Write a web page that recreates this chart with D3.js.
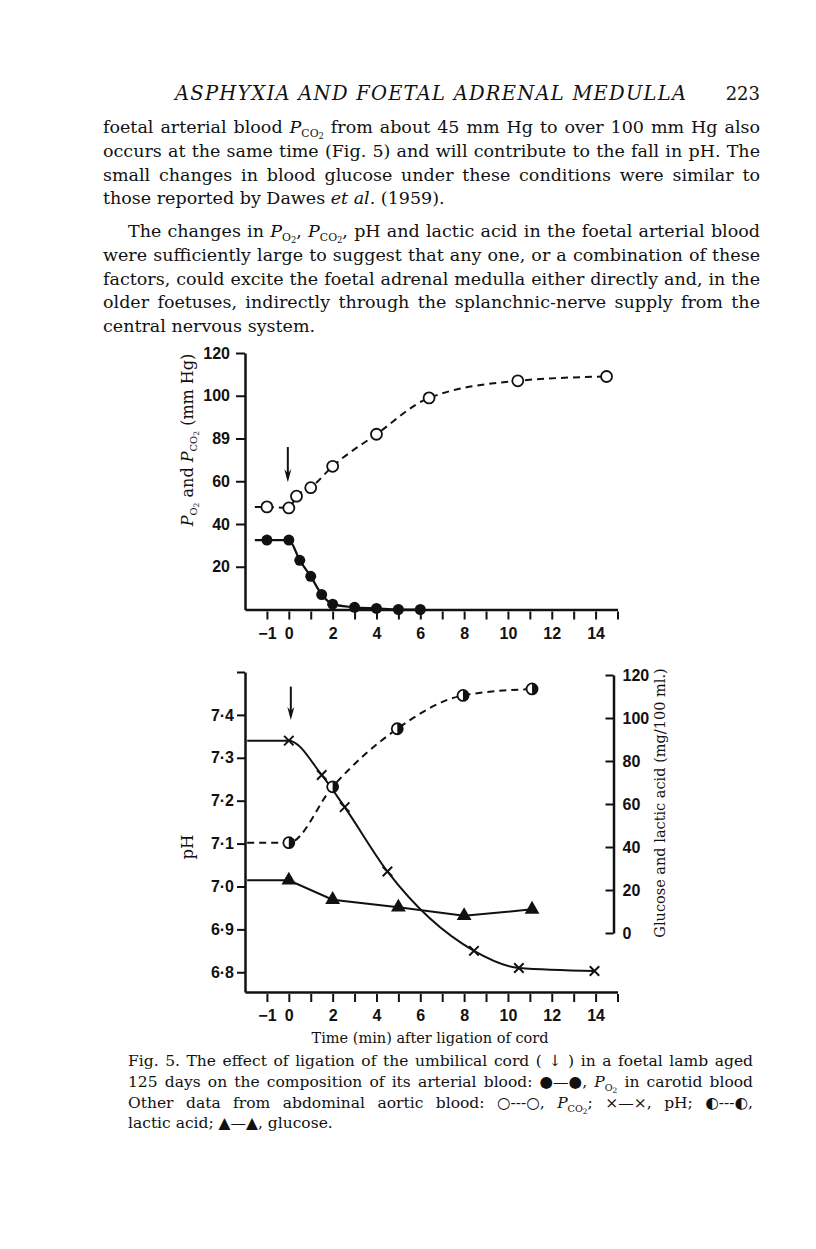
<!DOCTYPE html>
<html>
<head>
<meta charset="utf-8">
<script src="https://cdn.jsdelivr.net/npm/d3@7"></script>
<style>
body { margin: 0; background: #fff; }
.tick text { font-family: "Liberation Sans", Arial, sans-serif; font-weight: bold; font-size: 16px; fill: #111; }
</style>
</head>
<body>
<svg id="page"></svg>
<script>
// ---- data ----
var timeTicks = d3.range(-1, 16);
var timeTickLabels = ["−1", "0", "", "2", "", "4", "", "6", "", "8", "", "10", "", "12", "", "14", ""];

// upper panel: gas tensions (mm Hg)
var gasTicks = [20, 40, 60, 80, 100, 120];
var gasTickLabels = ["20", "40", "60", "89", "100", "120"];
var pco2Time = [-1, 0, 0.35, 1, 2, 4, 6.4, 10.45, 14.5];
var pco2 = [48, 47.5, 53, 57, 67, 82, 99, 107, 109];
var po2Time = [-1, 0, 0.5, 1, 1.5, 2, 3, 4, 5, 6];
var po2 = [32.5, 32.5, 23, 15.5, 7, 2.5, 1, 0.5, 0, 0];

// lower panel: pH (left) and glucose / lactic acid mg/100 ml (right)
var phTicks = [6.8, 6.9, 7.0, 7.1, 7.2, 7.3, 7.4, 7.5];
var phTickLabels = ["6·8", "6·9", "7·0", "7·1", "7·2", "7·3", "7·4", ""];
var chemTicks = [0, 20, 40, 60, 80, 100, 120];
var chemTickLabels = ["0", "20", "40", "60", "80", "100", "120"];
var phTime = [0, 1.5, 2.55, 4.5, 8.45, 10.5, 13.95];
var ph = [7.34, 7.26, 7.185, 7.035, 6.85, 6.81, 6.803];
var lacticTime = [0, 2, 4.95, 7.95, 11.1];
var lactic = [42, 68, 95, 110.5, 113.5];
var glucoseTime = [0, 2, 5, 8, 11.1];
var glucose = [24.5, 15.5, 12, 8, 11];

// where the control traces begin (min) and the ligation arrow
var upperLead = -1.55, lowerLead = -1.9;
var ligationTime = 0;

var W = 816, H = 1249;
var serif = '"DejaVu Serif", "Liberation Serif", serif';
var ink = "#111";

var svg = d3.select("#page").attr("width", W).attr("height", H);
svg.append("rect").attr("width", W).attr("height", H).attr("fill", "#fff");

//Text with italics and subscripts; parts = [[string, kind]]
function rich(x, y, parts, o) {
  var t = svg.append("text").attr("x", x).attr("y", y)
    .style("font-family", serif).style("font-size", o.size + "px")
    .style("white-space", "pre").attr("fill", ink);
  if (o.rotate) t.attr("transform", "rotate(-90," + x + "," + y + ")");
  if (o.anchor) t.attr("text-anchor", o.anchor);
  var off = 0;
  parts.forEach(function(p) {
    var k = p[1] || "";
    var target = k === "s" ? o.size * 0.24 : k === "ss" ? o.size * 0.36 : 0;
    var ts = t.append("tspan").text(p[0]).attr("dy", target - off);
    off = target;
    if (k === "i") ts.style("font-style", "italic");
    if (k === "s") ts.style("font-size", (o.size * 0.62) + "px");
    if (k === "ss") ts.style("font-size", (o.size * 0.48) + "px");
  });
  if (o.width) {
    var len = t.node().getComputedTextLength();
    var spaces = parts.map(function(p) { return p[0]; }).join("").split(" ").length - 1;
    if (spaces) t.style("word-spacing", ((o.width - len) / spaces) + "px");
  }
  return t;
}

// ---- running head and body text ----
svg.append("text").attr("x", 175).attr("y", 100)
  .attr("textLength", 511).attr("lengthAdjust", "spacing")
  .style("font-family", serif).style("font-style", "italic").style("font-size", "19.5px")
  .attr("fill", ink).text("ASPHYXIA AND FOETAL ADRENAL MEDULLA");
svg.append("text").attr("x", 760).attr("y", 100).attr("text-anchor", "end")
  .style("font-family", serif).style("font-size", "18px").attr("fill", ink).text("223");

var bodyLines = [
  [[["foetal arterial blood "], ["P", "i"], ["CO", "s"], ["2", "ss"], [" from about 45 mm Hg to over 100 mm Hg also"]], 103, 133, 657],
  [[["occurs at the same time (Fig. 5) and will contribute to the fall in pH. The"]], 103, 157, 657],
  [[["small changes in blood glucose under these conditions were similar to"]], 103, 181, 657],
  [[["those reported by Dawes "], ["et al.", "i"], [" (1959)."]], 103, 204, 0],
  [[["The changes in "], ["P", "i"], ["O", "s"], ["2", "ss"], [", "], ["P", "i"], ["CO", "s"], ["2", "ss"], [", pH and lactic acid in the foetal arterial blood"]], 128, 237, 632],
  [[["were sufficiently large to suggest that any one, or a combination of these"]], 103, 261, 657],
  [[["factors, could excite the foetal adrenal medulla either directly and, in the"]], 103, 285, 657],
  [[["older foetuses, indirectly through the splanchnic-nerve supply from the"]], 103, 308, 657],
  [[["central nervous system."]], 103, 332, 0]
];
bodyLines.forEach(function(l) { rich(l[1], l[2], l[0], {size: 17.5, width: l[3]}); });

// ---- scales ----
var x = d3.scaleLinear().domain([-2, 15]).range([245, 617.5]);
var yGas = d3.scaleLinear().domain([0, 120]).range([609.5, 353]);
var yPh = d3.scaleLinear().domain([6.754, 7.5]).range([992, 672]);
var yChem = d3.scaleLinear().domain([0, 120]).range([933, 675]);

function styleAxis(g) {
  g.select(".domain").attr("stroke", ink).attr("stroke-width", 2.5);
  g.selectAll(".tick line").attr("stroke", ink).attr("stroke-width", 2);
}

function timeAxis(yPos) {
  var g = svg.append("g").attr("transform", "translate(0," + yPos + ")")
    .call(d3.axisBottom(x).tickValues(timeTicks)
      .tickFormat(function(d, i) { return timeTickLabels[i]; })
      .tickSize(10).tickSizeOuter(0).tickPadding(8));
  styleAxis(g);
  g.selectAll(".tick line").attr("y1", 2);
}

// ---- upper panel ----
timeAxis(yGas(0));
var gasAxis = svg.append("g").attr("transform", "translate(" + x(-2) + ",0)")
  .call(d3.axisLeft(yGas).tickValues(gasTicks)
    .tickFormat(function(d, i) { return gasTickLabels[i]; })
    .tickSize(9).tickSizeOuter(0).tickPadding(6));
styleAxis(gasAxis);

rich(193, 440, [["P", "i"], ["O", "s"], ["2", "ss"], [" and "], ["P", "i"], ["CO", "s"], ["2", "ss"], [" (mm Hg)"]],
  {size: 16, rotate: true, anchor: "middle"});

function series(t, v, lead) {
  var pts = t.map(function(d, i) { return [d, v[i]]; });
  return [[lead, v[0]]].concat(pts);
}

var line = function(ys) {
  return d3.line().x(function(d) { return x(d[0]); }).y(function(d) { return ys(d[1]); });
};

svg.append("path").attr("d", line(yGas).curve(d3.curveMonotoneX)(series(pco2Time, pco2, upperLead)))
  .attr("fill", "none").attr("stroke", ink).attr("stroke-width", 2).attr("stroke-dasharray", "7,5");
svg.append("path").attr("d", line(yGas).curve(d3.curveMonotoneX)(series(po2Time, po2, upperLead)))
  .attr("fill", "none").attr("stroke", ink).attr("stroke-width", 2.2);

svg.selectAll(".pco2").data(pco2Time).enter().append("circle")
  .attr("cx", function(d) { return x(d); })
  .attr("cy", function(d, i) { return yGas(pco2[i]); })
  .attr("r", 5.5).attr("fill", "#fff").attr("stroke", ink).attr("stroke-width", 1.8);
svg.selectAll(".po2").data(po2Time).enter().append("circle")
  .attr("cx", function(d) { return x(d); })
  .attr("cy", function(d, i) { return yGas(po2[i]); })
  .attr("r", 5.5).attr("fill", ink);

function arrow(xp, yTop, yTip) {
  svg.append("line").attr("x1", xp).attr("x2", xp).attr("y1", yTop).attr("y2", yTip - 4)
    .attr("stroke", ink).attr("stroke-width", 2);
  svg.append("path").attr("d", "M" + (xp - 3.5) + "," + (yTip - 13) + "L" + xp + "," + yTip + "L" + (xp + 3.5) + "," + (yTip - 13) + "L" + xp + "," + (yTip - 9) + "Z")
    .attr("fill", ink);
}
arrow(x(ligationTime) - 1, yGas(76), yGas(59.5));

// ---- lower panel ----
timeAxis(yPh.range()[0]);
var phAxis = svg.append("g").attr("transform", "translate(" + x(-2) + ",0)")
  .call(d3.axisLeft(yPh).tickValues(phTicks)
    .tickFormat(function(d, i) { return phTickLabels[i]; })
    .tickSize(8).tickSizeOuter(0).tickPadding(3));
styleAxis(phAxis);
var chemAxis = svg.append("g").attr("transform", "translate(" + (x(15) - 4) + ",0)")
  .call(d3.axisRight(yChem).tickValues(chemTicks)
    .tickFormat(function(d, i) { return chemTickLabels[i]; })
    .tickSize(-8).tickSizeOuter(0).tickPadding(9));
styleAxis(chemAxis);

rich(193, 847, [["pH"]], {size: 16.5, rotate: true, anchor: "middle"});
rich(665, 803, [["Glucose and lactic acid (mg/100 ml.)"]], {size: 14.5, rotate: true, anchor: "middle"});
rich(430, 1043, [["Time (min) after ligation of cord"]], {size: 14.5, anchor: "middle"});

svg.append("path").attr("d", line(yChem).curve(d3.curveMonotoneX)(series(lacticTime, lactic, lowerLead)))
  .attr("fill", "none").attr("stroke", ink).attr("stroke-width", 2).attr("stroke-dasharray", "7,5");
svg.append("path").attr("d", line(yPh).curve(d3.curveMonotoneX)(series(phTime, ph, lowerLead)))
  .attr("fill", "none").attr("stroke", ink).attr("stroke-width", 2);
svg.append("path").attr("d", line(yChem)(series(glucoseTime, glucose, lowerLead)))
  .attr("fill", "none").attr("stroke", ink).attr("stroke-width", 2);

// pH crosses
var cross = d3.symbol().type(d3.symbolX).size(60);
svg.selectAll(".ph").data(phTime).enter().append("path")
  .attr("transform", function(d, i) { return "translate(" + x(d) + "," + yPh(ph[i]) + ")"; })
  .attr("d", cross).attr("fill", "none").attr("stroke", ink).attr("stroke-width", 2);

// lactic acid half-filled circles
var lac = svg.selectAll(".lac").data(lacticTime).enter().append("g")
  .attr("transform", function(d, i) { return "translate(" + x(d) + "," + yChem(lactic[i]) + ")"; });
lac.append("circle").attr("r", 5.5).attr("fill", "#fff").attr("stroke", ink).attr("stroke-width", 1.8);
lac.append("path").attr("d", "M0,-5.5A5.5,5.5 0 0 1 0,5.5Z").attr("fill", ink);

// glucose triangles
svg.selectAll(".glu").data(glucoseTime).enter().append("path")
  .attr("transform", function(d, i) { return "translate(" + x(d) + "," + yChem(glucose[i]) + ")"; })
  .attr("d", d3.symbol().type(d3.symbolTriangle).size(95)).attr("fill", ink);

arrow(x(ligationTime) + 2, yPh(7.466), yPh(7.388));

// ---- caption ----
var capLines = [
  [[["Fig. 5. The effect of ligation of the umbilical cord ( ↓ ) in a foetal lamb aged"]], 1066, 625],
  [[["125 days on the composition of its arterial blood: ●—●, "], ["P", "i"], ["O", "s"], ["2", "ss"], [" in carotid blood"]], 1087, 625],
  [[["Other data from abdominal aortic blood: ○---○, "], ["P", "i"], ["CO", "s"], ["2", "ss"], ["; ×—×, pH; ◐---◐,"]], 1108, 625],
  [[["lactic acid; ▲—▲, glucose."]], 1128, 0]
];
capLines.forEach(function(l) { rich(128, l[1], l[0], {size: 15.5, width: l[2]}); });
</script>
</body>
</html>
